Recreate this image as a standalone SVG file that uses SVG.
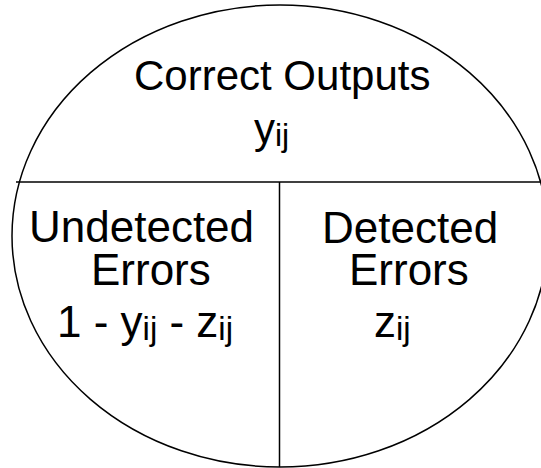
<svg xmlns="http://www.w3.org/2000/svg" width="541" height="468" viewBox="0 0 541 468">
<style>
.t{font-family:"Liberation Sans",Arial,sans-serif;font-size:42px;fill:#000}
.b{font-size:44px}
.s{font-size:32px}
.s2{font-size:33px}
.ln{fill:none;stroke:#000;stroke-width:1.5}
</style>
<rect width="541" height="468" fill="#fff"/>
<g id="outline"><ellipse class="ln" cx="280" cy="236" rx="268" ry="231"/></g>
<g id="connectors">
<line class="ln" x1="16" y1="182" x2="541" y2="182" stroke-width="2"/>
<line class="ln" x1="279.5" y1="182" x2="279.5" y2="467"/>
</g>
<g id="correct">
<text class="t" x="134" y="90">Correct Outputs</text>
<text class="t" x="254" y="143">y<tspan class="s" dy="3">ij</tspan></text>
</g>
<g id="undetected">
<text class="t b" x="29" y="242">Undetected</text>
<text class="t b" x="91" y="285">Errors</text>
<text class="t b" x="57" y="337">1 - y<tspan class="s2" dy="3">ij</tspan><tspan dy="-3"> - z</tspan><tspan class="s2" dy="3">ij</tspan></text>
</g>
<g id="detected">
<text class="t b" x="322" y="243">Detected</text>
<text class="t b" x="349" y="285">Errors</text>
<text class="t b" x="374" y="337">z<tspan class="s2" dy="3">ij</tspan></text>
</g>
</svg>
